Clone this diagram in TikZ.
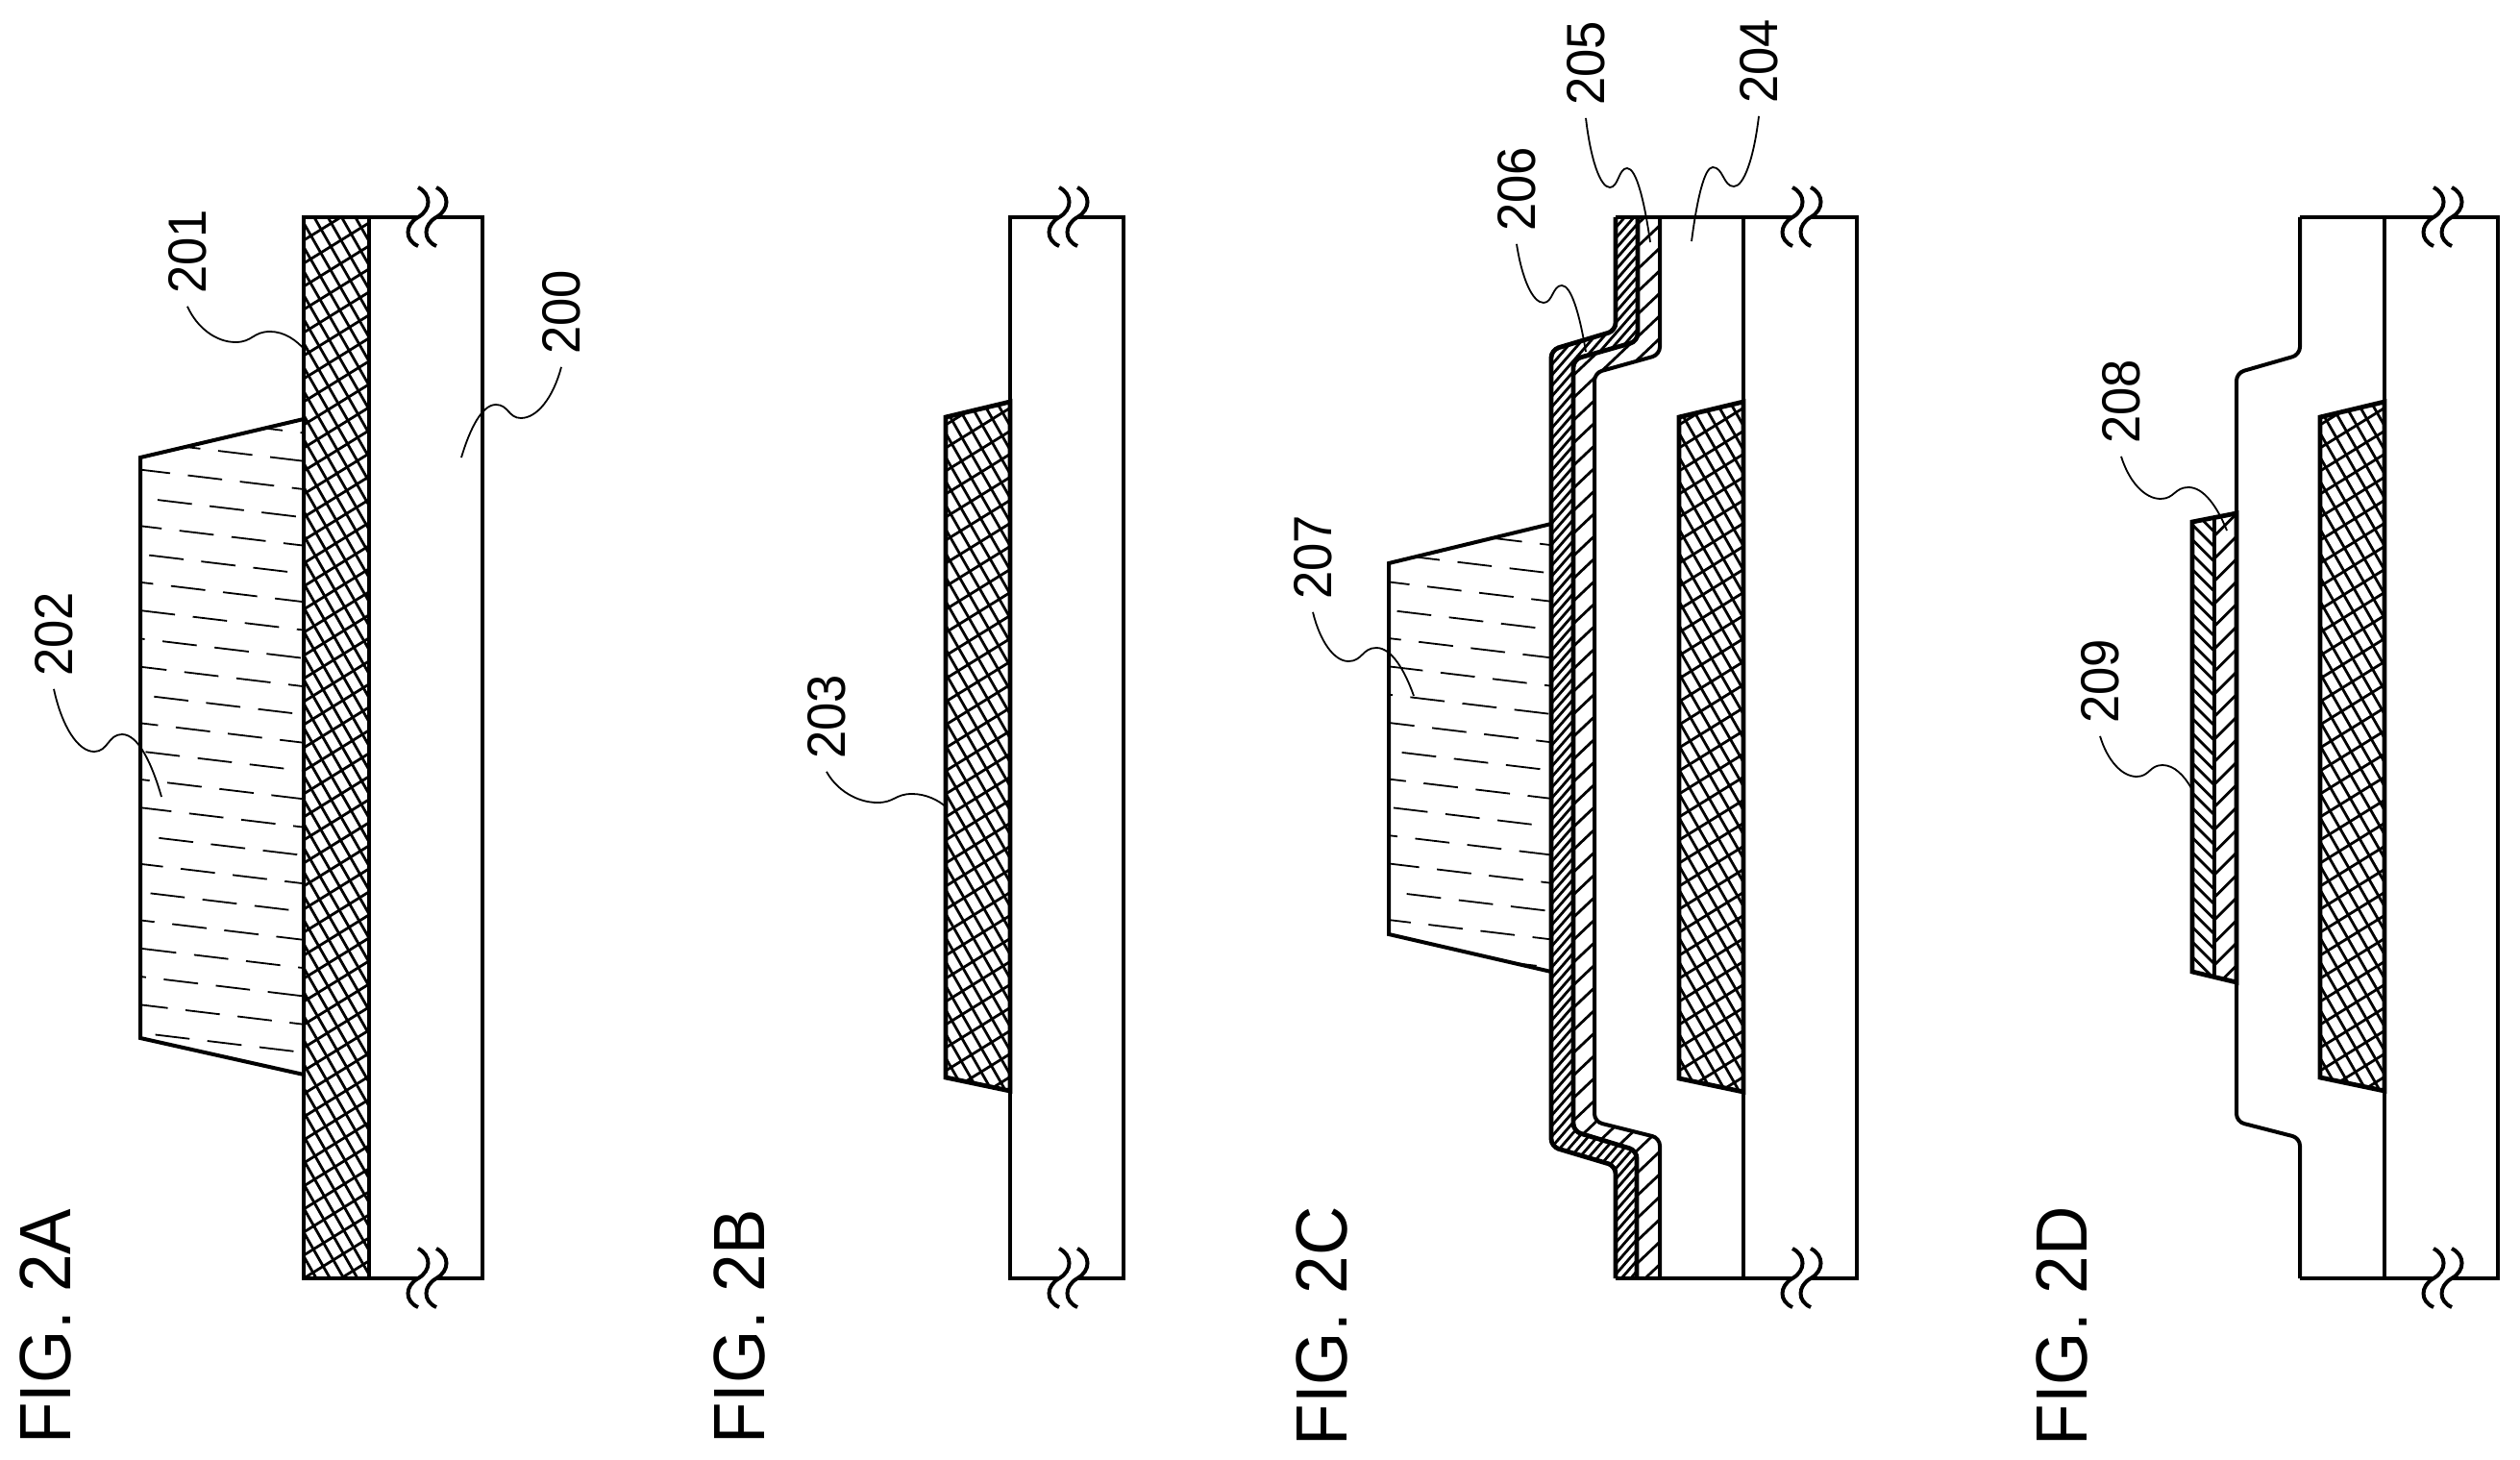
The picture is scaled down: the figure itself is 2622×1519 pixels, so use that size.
\documentclass[tikz,border=0pt]{standalone}
\usepackage{fontspec}
\setmainfont[FakeStretch=0.94]{Liberation Sans}
\usepackage{tikz}
\usetikzlibrary{calc}

% one family of parallel hatch lines: x1, x2, y1, y2, slope, gap
\newcommand{\hatchset}[6]{%
  \pgfmathsetmacro{\hrise}{(#2-#1)*#5}
  \pgfmathsetmacro{\hbase}{#3+min(0,\hrise)}
  \pgfmathtruncatemacro{\hcount}{(#4-#3+abs(\hrise))/#6}
  \foreach \k in {0,...,\hcount}
    \draw[fineline] (#1,{\hbase+\k*#6}) -- (#2,{\hbase+\k*#6-\hrise});
}
\newcommand{\crosshatch}[4]{%
  \hatchset{#1}{#2}{#3}{#4}{0.62}{24}
  \hatchset{#1}{#2}{#3}{#4}{-1.75}{25}
}
% brick pattern of the resist: start of the top row, rows are offset by the phase
\newcommand{\resistrows}[2]{%
  \foreach \k in {0,...,25} {
    \pgfmathsetmacro{\hphase}{13+\k*9.01}
    \draw[dashline, dash phase=\hphase pt] (#1,{#2+\k*29.3}) -- ++(400,48);
  }
}
% wavy leader: label, trough, crest, tip
\newcommand{\leaderline}[4]{%
  \coordinate (lt) at (#2);
  \coordinate (lc) at (#3);
  \path ($(#1.west)!.2!(lt)$) coordinate (ax) ($(#1.west)!.6!(lt)$) coordinate (ay)
    ($(lt)!.5!(lc)$) coordinate (am)
    ($(lc)!.4!(#4)$) coordinate (bx) ($(lc)!.45!(#4)$) coordinate (bz) ($(lc)!.75!(#4)$) coordinate (by);
  \draw[leader] (#1.west) .. controls (ax |- ay) and (ay |- lt) .. (lt)
    .. controls (am |- lt) and (am |- lc) .. (lc)
    .. controls (bx |- lc) and (by |- bz) .. (#4);
}

\begin{document}
\begin{tikzpicture}[
    x=0.01cm, y=-0.01cm,
    outline/.style={line width=0.04cm, line join=miter},
    border/.style={line width=0.048cm, line join=miter},
    fineline/.style={line width=0.028cm},
    leader/.style={line width=0.018cm},
    dashline/.style={line width=0.018cm, dash pattern=on 10.2pt off 5.3pt},
    refnum/.style={rotate=90, font=\fontsize{15.9}{17}\selectfont, inner ysep=0pt, inner xsep=0.13cm, outer sep=0pt},
    figlabel/.style={rotate=90, font=\fontsize{21.5}{23}\selectfont, inner sep=0pt},
    stepped/.style={rounded corners=0.08cm},
    breakmark/.pic={
      \fill[white] (0,-31) .. controls (14,-24) and (14,-8) .. (0,0) .. controls (-14,8) and (-14,24) .. (0,30)
        -- (19,30) .. controls (5,24) and (5,8) .. (19,0) .. controls (33,-8) and (33,-24) .. (19,-31) -- cycle;
      \draw[outline] (0,-31) .. controls (14,-24) and (14,-8) .. (0,0) .. controls (-14,8) and (-14,24) .. (0,30);
      \draw[outline] (19,-31) .. controls (33,-24) and (33,-8) .. (19,0) .. controls (5,8) and (5,24) .. (19,30);
    }
  ]
  \useasboundingbox (0,0) rectangle (2622,1519);

  % FIG. 2A
  \begin{scope}
    \clip (316,226) rectangle (384,1330);
    \crosshatch{316}{384}{226}{1330}
  \end{scope}
  \begin{scope}
    \clip (146,476) -- (316,436) -- (316,1118) -- (146,1080) -- cycle;
    \resistrows{33.2}{416.5}
  \end{scope}
  \draw[outline] (146,476) -- (316,436) -- (316,1118) -- (146,1080) -- cycle;
  \draw[border] (316,226) rectangle (384,1330);
  \draw[outline] (384,226) rectangle (502,1330);
  \pic at (435,226) {breakmark};
  \pic at (435,1330) {breakmark};

  % FIG. 2B
  \begin{scope}
    \clip (984,434) -- (1051,418) -- (1051,1135) -- (984,1121) -- cycle;
    \crosshatch{984}{1051}{418}{1135}
  \end{scope}
  \draw[border] (984,434) -- (1051,418) -- (1051,1135) -- (984,1121) -- cycle;
  \draw[outline] (1051,226) rectangle (1169,1330);
  \pic at (1102,226) {breakmark};
  \pic at (1102,1330) {breakmark};

  % FIG. 2C
  \begin{scope}
    \clip (1747,434) -- (1814,418) -- (1814,1136) -- (1747,1122) -- cycle;
    \crosshatch{1747}{1814}{418}{1136}
  \end{scope}
  \begin{scope}
    \clip[stepped] (1681,226) -- (1681,344) -- (1614,364) -- (1614,1193) -- (1681,1213) -- (1681,1330)
      -- (1704,1330) -- (1703,1197) -- (1637,1177) -- (1637,374) -- (1704,355) -- (1704,226) -- cycle;
    \hatchset{1614}{1704}{226}{1330}{1.15}{11}
  \end{scope}
  \begin{scope}
    \clip[stepped] (1704,226) -- (1704,355) -- (1637,374) -- (1637,1177) -- (1703,1197) -- (1703,1330)
      -- (1727,1330) -- (1727,1184) -- (1659,1167) -- (1659,388) -- (1727,369) -- (1727,226) -- cycle;
    \hatchset{1637}{1727}{226}{1330}{0.95}{23.5}
  \end{scope}
  \begin{scope}
    \clip (1445,586) -- (1614,545) -- (1614,1011) -- (1445,972) -- cycle;
    \resistrows{1322.7}{532.2}
  \end{scope}
  \draw[outline] (1445,586) -- (1614,545) -- (1614,1011) -- (1445,972) -- cycle;
  \draw[border, stepped] (1681,226) -- (1681,344) -- (1614,364) -- (1614,1193) -- (1681,1213) -- (1681,1330);
  \draw[border, stepped] (1704,226) -- (1704,355) -- (1637,374) -- (1637,1177) -- (1703,1197) -- (1703,1330);
  \draw[outline, stepped] (1727,226) -- (1727,369) -- (1659,388) -- (1659,1167) -- (1727,1184) -- (1727,1330);
  \draw[outline] (1681,226) -- (1814,226);
  \draw[outline] (1681,1330) -- (1814,1330);
  \draw[border] (1747,434) -- (1814,418) -- (1814,1136) -- (1747,1122) -- cycle;
  \draw[outline] (1814,226) rectangle (1932,1330);
  \pic at (1865,226) {breakmark};
  \pic at (1865,1330) {breakmark};

  % FIG. 2D
  \begin{scope}
    \clip (2414,434) -- (2481,418) -- (2481,1135) -- (2414,1121) -- cycle;
    \crosshatch{2414}{2481}{418}{1135}
  \end{scope}
  \begin{scope}
    \clip (2304,538.5) -- (2327,534) -- (2327,1022) -- (2304,1016.5) -- cycle;
    \hatchset{2304}{2327}{534}{1022}{1}{23.5}
  \end{scope}
  \begin{scope}
    \clip (2281,543) -- (2304,538.5) -- (2304,1016.5) -- (2281,1011) -- cycle;
    \hatchset{2281}{2304}{538}{1017}{-1}{15.5}
  \end{scope}
  \draw[border] (2281,543) -- (2327,534) -- (2327,1022) -- (2281,1011) -- cycle;
  \draw[border] (2304,538.5) -- (2304,1016.5);
  \draw[border] (2414,434) -- (2481,418) -- (2481,1135) -- (2414,1121) -- cycle;
  \draw[outline, stepped] (2393,226) -- (2393,369) -- (2327,388) -- (2327,1167) -- (2393,1184) -- (2393,1330);
  \draw[outline] (2393,226) -- (2481,226);
  \draw[outline] (2393,1330) -- (2481,1330);
  \draw[outline] (2481,226) rectangle (2599,1330);
  \pic at (2532,226) {breakmark};
  \pic at (2532,1330) {breakmark};

  % figure captions
  \node[figlabel] (figa) at (47,1380) {FIG. 2A};
  \node[figlabel] (figb) at (769,1380) {FIG. 2B};
  \node[figlabel] (figc) at (1375,1380) {FIG. 2C};
  \node[figlabel] (figd) at (2145,1380) {FIG. 2D};

  % reference numbers with their leaders
  \node[refnum] (n200) at (584,325) {200};
  \node[refnum] (n201) at (195,262) {201};
  \node[refnum] (n202) at (56,660) {202};
  \node[refnum] (n203) at (860,746) {203};
  \node[refnum] (n204) at (1830,64) {204};
  \node[refnum] (n205) at (1650,66) {205};
  \node[refnum] (n206) at (1578,197) {206};
  \node[refnum] (n207) at (1366,580) {207};
  \node[refnum] (n208) at (2207,418) {208};
  \node[refnum] (n209) at (2185,709) {209};
  \coordinate (t200) at (480,476);
  \coordinate (t201) at (318,365);
  \coordinate (t202) at (168,829);
  \coordinate (t203) at (985,840);
  \coordinate (t204) at (1760,251);
  \coordinate (t205) at (1717,252);
  \coordinate (t206) at (1650,366);
  \coordinate (t207) at (1471,724);
  \coordinate (t208) at (2317,552);
  \coordinate (t209) at (2280,820);
  \leaderline{n200}{542,435}{516,421}{t200}
  \leaderline{n201}{245,356}{281,345}{t201}
  \leaderline{n202}{98,782}{127,764}{t202}
  \leaderline{n203}{913,835}{949,826}{t203}
  \leaderline{n204}{1804,194}{1782,174}{t204}
  \leaderline{n205}{1675,195}{1693,175}{t205}
  \leaderline{n206}{1606,315}{1625,297}{t206}
  \leaderline{n207}{1403,688}{1432,674}{t207}
  \leaderline{n208}{2248,519}{2277,507}{t208}
  \leaderline{n209}{2223,808}{2250,796}{t209}
\end{tikzpicture}
\end{document}
